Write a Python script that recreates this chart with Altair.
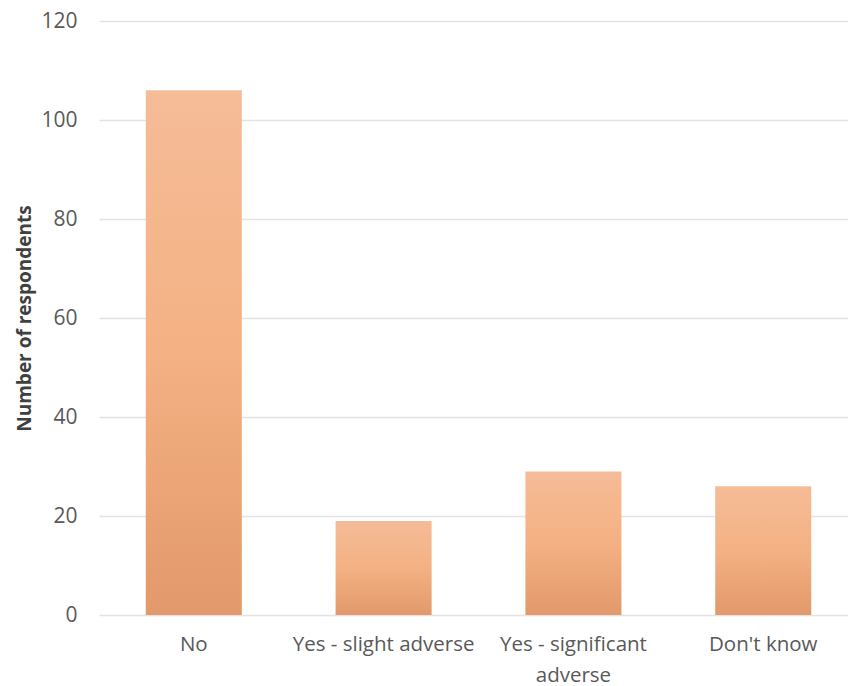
import altair as alt
import pandas as pd

categories = ["No", "Yes - slight adverse", "Yes - significant adverse", "Don't know"]
values = [106, 19, 29, 26]

df = pd.DataFrame({"category": categories, "value": values})

FONT = "Open Sans"

grad = alt.Gradient(
    gradient="linear",
    x1=0, x2=0, y1=0, y2=1,
    stops=[
        alt.GradientStop(color="#F5BC98", offset=0),
        alt.GradientStop(color="#F4B183", offset=0.5),
        alt.GradientStop(color="#E2996B", offset=1),
    ],
)

chart = alt.Chart(df).mark_bar(color=grad).encode(
    x=alt.X(
        "category:N",
        sort=categories,
        title=None,
        scale=alt.Scale(paddingInner=0.494, paddingOuter=0.22, align=0.56),
        axis=alt.Axis(
            labelAngle=0,
            labelFont=FONT,
            labelFontSize=20.5,
            labelColor="#595959",
            labelPadding=19,
            labelLineHeight=31,
            labelLimit=300,
            ticks=False,
            domain=False,
            labelExpr="datum.value == 'Yes - significant adverse' ? ['Yes - significant', 'adverse'] : datum.value",
        ),
    ),
    y=alt.Y(
        "value:Q",
        title="Number of respondents",
        scale=alt.Scale(domain=[0, 120], nice=False),
        axis=alt.Axis(
            values=[0, 20, 40, 60, 80, 100, 120],
            labelFont=FONT,
            labelFontSize=21,
            labelColor="#595959",
            labelPadding=22,
            ticks=False,
            domain=False,
            gridColor="#E3E3E3",
            gridWidth=1.3,
            titleFont=FONT,
            titleFontSize=19,
            titleFontWeight="bold",
            titleColor="#404040",
            titlePadding=6,
        ),
    ),
).properties(
    width=749,
    height=594,
    autosize=alt.AutoSizeParams(type="none"),
    padding={"left": 99, "top": 21, "right": 0, "bottom": 71},
).configure_view(stroke=None)

chart.save("out.html", embed_options={"renderer": "svg", "actions": False})
